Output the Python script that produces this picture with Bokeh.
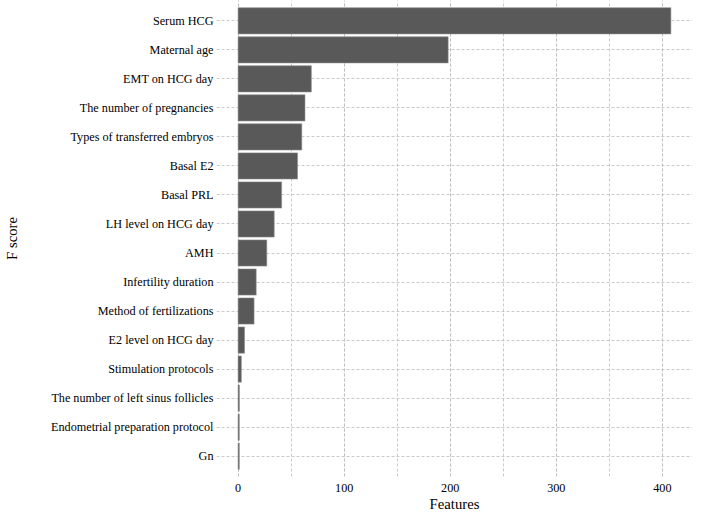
from bokeh.plotting import figure
from bokeh.models import FactorRange, Range1d, SingleIntervalTicker
from bokeh.embed import file_html
from bokeh.resources import INLINE

features = [
    "Serum HCG", "Maternal age", "EMT on HCG day", "The number of pregnancies",
    "Types of transferred embryos", "Basal E2", "Basal PRL", "LH level on HCG day",
    "AMH", "Infertility duration", "Method of fertilizations", "E2 level on HCG day",
    "Stimulation protocols", "The number of left sinus follicles",
    "Endometrial preparation protocol", "Gn",
]
scores = [408, 198, 69, 63, 60, 56, 41, 34, 27, 17, 15, 6, 3, 1.2, 1.1, 1.1]

FONT = "Liberation Serif"

factors = list(reversed(features))
p = figure(width=692, height=514, output_backend="svg", toolbar_location=None,
           y_range=FactorRange(factors=factors, range_padding=0.2, range_padding_units="absolute"),
           x_range=Range1d(-20.4, 428.4),
           min_border_left=216, min_border_right=0, min_border_top=0, min_border_bottom=31)

p.hbar(y=features, right=scores, left=0, height=0.9, fill_color="#595959",
       line_color="#8a8a8a", line_width=0.6)

p.outline_line_color = None
p.background_fill_color = "white"
p.border_fill_color = "white"

p.xaxis.ticker = SingleIntervalTicker(interval=100, num_minor_ticks=2)
for ax in (p.xaxis[0], p.yaxis[0]):
    ax.axis_line_color = None
    ax.major_tick_line_color = None
    ax.minor_tick_line_color = None
    ax.major_tick_out = 0
    ax.major_tick_in = 0
    ax.minor_tick_out = 0
    ax.minor_tick_in = 0
    ax.major_label_text_font = FONT
    ax.major_label_text_font_size = "12.2px"
    ax.major_label_text_color = "#000000"
    ax.axis_label_text_font = FONT
    ax.axis_label_text_font_size = "14.7px"
    ax.axis_label_text_font_style = "normal"
    ax.axis_label_text_color = "#000000"

p.xaxis.axis_label = "Features"
p.yaxis.axis_label = "F score"
p.xaxis.major_label_standoff = 7
p.xaxis.axis_label_standoff = 1
p.yaxis.major_label_standoff = 3
p.yaxis.axis_label_standoff = 28

p.xgrid.grid_line_color = "#bdbdbd"
p.xgrid.grid_line_dash = "3 2"
p.xgrid.grid_line_width = 0.8
p.xgrid.minor_grid_line_color = "#bdbdbd"
p.xgrid.minor_grid_line_dash = "3 2"
p.xgrid.minor_grid_line_width = 0.8
p.ygrid.grid_line_color = "#bdbdbd"
p.ygrid.grid_line_dash = "3 2"
p.ygrid.grid_line_width = 0.8

open("out.html", "w").write(file_html(p, INLINE))
